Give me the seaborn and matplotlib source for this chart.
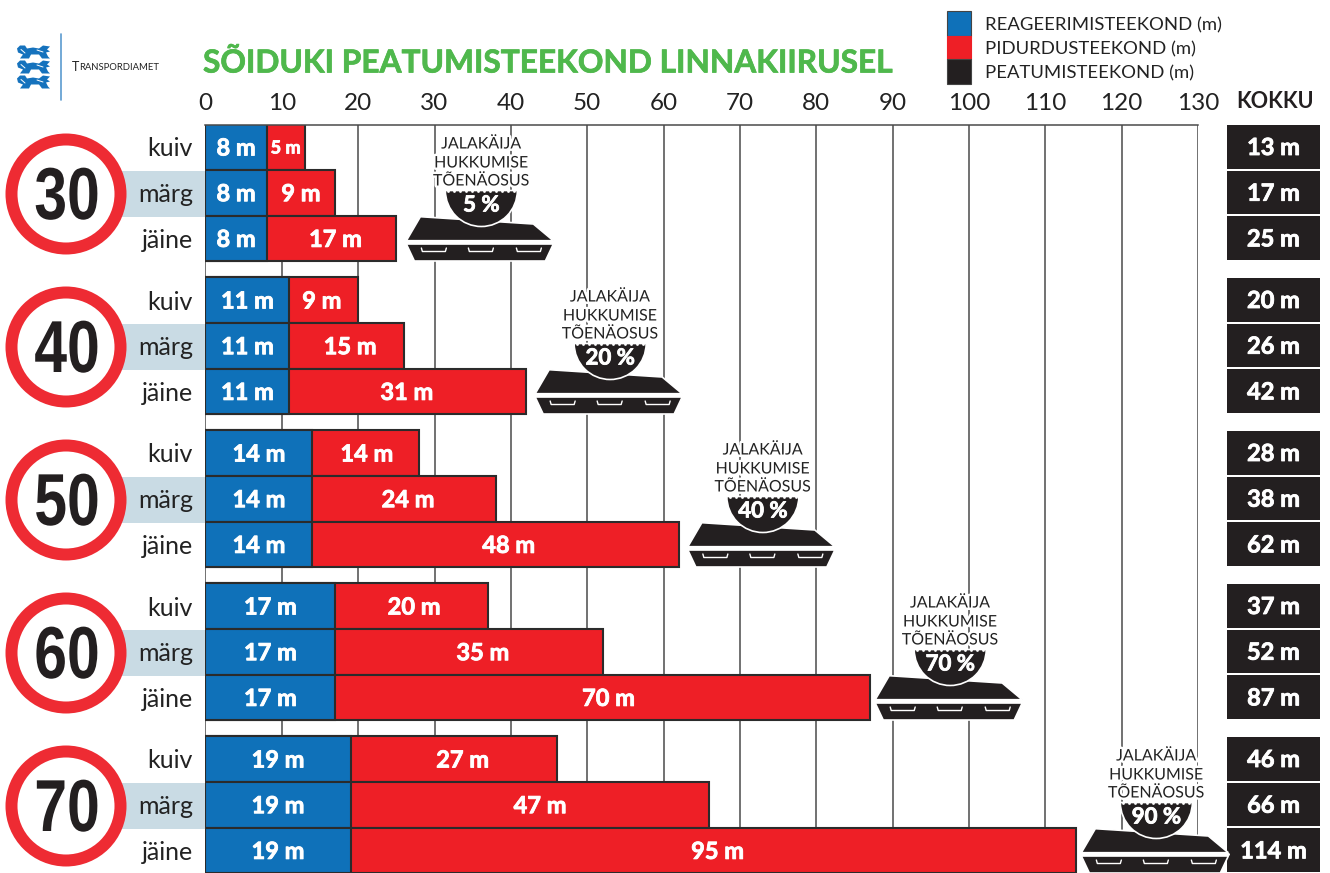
import numpy as np
import pandas as pd
import matplotlib.pyplot as plt
import matplotlib.patheffects as pe
from matplotlib.patches import Circle, Polygon, Rectangle, Wedge
from matplotlib.transforms import Affine2D
import seaborn as sns

speeds = ['30', '40', '50', '60', '70']
conditions = ['kuiv', 'märg', 'jäine']
reaction = [8, 8, 8, 11, 11, 11, 14, 14, 14, 17, 17, 17, 19, 19, 19]
braking = [5, 9, 17, 9, 15, 31, 14, 24, 48, 20, 35, 70, 27, 47, 95]
totals = [13, 17, 25, 20, 26, 42, 28, 38, 62, 37, 52, 87, 46, 66, 114]
death_prob = [5, 20, 40, 70, 90]
legend_labels = ['REAGEERIMISTEEKOND (m)', 'PIDURDUSTEEKOND (m)', 'PEATUMISTEEKOND (m)']

BLUE = '#0f71b9'
RED = '#ee1f26'
BLACK = '#231f20'
GREEN = '#4fb84c'
GRID = '#4a4a4a'

sns.set_theme(style='ticks')
plt.rcParams['font.family'] = ['Lato', 'DejaVu Sans']

fig = plt.figure(figsize=(13.3, 8.73), dpi=100)


class Narrow(pe.AbstractPathEffect):
    # squeezes glyphs sideways, there is no condensed bold font installed
    def __init__(self, sx, cx):
        super().__init__()
        self.sx = sx
        self.cx = cx

    def draw_path(self, renderer, gc, tpath, affine, rgbFace=None):
        squeeze = Affine2D().translate(-self.cx, 0).scale(self.sx, 1).translate(self.cx, 0)
        renderer.draw_path(gc, tpath, affine + squeeze, rgbFace)


def pixel_axes(zorder):
    # axes over the whole figure, coordinates are image pixels
    a = fig.add_axes([0, 0, 1, 1], zorder=zorder)
    a.set_xlim(0, 1330)
    a.set_ylim(873, 0)
    a.axis('off')
    a.patch.set_alpha(0)
    return a


back = pixel_axes(0)
top = pixel_axes(2)

# rows: 3 per group, y is measured in pixels from the top of the image
row_y = [147 + 153 * g + 45.7 * r for g in range(5) for r in range(3)]
df = pd.DataFrame({'y': row_y, 'reaction': reaction, 'total': totals})

X0, X130 = 205.5, 1198
ax = fig.add_axes([X0 / 1330, 0, (X130 - X0) / 1330, (873 - 124.5) / 873], zorder=1)
ax.patch.set_alpha(0)

# red bars are drawn to the full length, blue goes on top of them
sns.barplot(data=df, x='total', y='y', orient='y', native_scale=True, width=1.0,
            color=RED, saturation=1, edgecolor='#2b2b2b', linewidth=1.5, ax=ax)
sns.barplot(data=df, x='reaction', y='y', orient='y', native_scale=True, width=1.0,
            color=BLUE, saturation=1, edgecolor='#2b2b2b', linewidth=1.5, ax=ax)

ax.set_xlim(0, 130)
ax.set_ylim(873, 124.5)
ax.set_xlabel('')
ax.set_ylabel('')
ax.set_axisbelow(True)
ax.xaxis.tick_top()
ax.set_xticks(range(0, 131, 10))
ax.set_xticks(range(5, 130, 10), minor=True)
ax.tick_params(axis='x', which='major', length=4.5, width=1.1, color=GRID, labelsize=17.5,
               labelcolor='#222222', pad=3)
ax.tick_params(axis='x', which='minor', length=6, width=1.0, color=GRID, direction='inout')
ax.grid(axis='x', which='major', color=GRID, lw=1.1)
ax.set_yticks(row_y)
ax.set_yticklabels(conditions * 5)
ax.tick_params(axis='y', length=0, labelsize=18, labelcolor='#222222', pad=9)
sns.despine(ax=ax, left=True, right=True, bottom=True, top=False)
ax.spines['top'].set_color(GRID)
ax.spines['top'].set_linewidth(1.1)

# value labels inside the bars, the thin stroke makes them as heavy as the original
# the red labels are not quite centred in the reference, nudge is in pixels
heavy = [pe.withStroke(linewidth=0.6, foreground='white')]
nudge = [0, 0, 4, -2, 3.5, -1, 1, 4, 13, 2.5, 14, 6, 9, 10, 4.5]
px_per_m = (X130 - X0) / 130
for i, y in enumerate(row_y):
    ax.text(reaction[i] / 2, y + 1, f'{reaction[i]} m', color='white', fontweight='bold',
            fontsize=17, ha='center', va='center', path_effects=heavy)
    small = braking[i] < 6
    ax.text(reaction[i] + braking[i] / 2 + nudge[i] / px_per_m, y + 1, f'{braking[i]} m', color='white',
            fontweight='bold', fontsize=13 if small else 17, ha='center', va='center', path_effects=heavy)

# kokku column
top.text(1275, 102, 'KOKKU', fontsize=15.5, fontweight='bold', color=BLACK, ha='center', va='center')
for i, y in enumerate(row_y):
    top.add_patch(Rectangle((1227, y - 22), 93, 43.5, color=BLACK, lw=0))
    top.text(1273.5, y + 0.5, f'{totals[i]} m', color='white', fontweight='bold', fontsize=17,
             ha='center', va='center', path_effects=heavy)

# speed signs
for g, speed in enumerate(speeds):
    cy = 194 + 153 * g
    back.add_patch(Rectangle((120, cy - 23), 86, 46, color='#c9dbe4', lw=0))
    top.add_patch(Circle((66, cy), 60.5, color='#ee2b33', lw=0))
    top.add_patch(Circle((66, cy), 48.5, color='white', lw=0))
    top.text(67, cy + 5.5, speed, fontsize=53, fontweight='bold', color=BLACK, ha='center', va='center',
             family=['Liberation Sans', 'DejaVu Sans'], path_effects=[Narrow(0.8, 67)])


def coffin(x, dy, prob):
    lid = [(x, 240.7 + dy), (x + 14, 216.7 + dy), (x + 127, 224 + dy), (x + 147, 240.7 + dy)]
    base = [(x, 244 + dy), (x + 8, 261 + dy), (x + 139, 261 + dy), (x + 147, 244 + dy)]
    top.add_patch(Polygon(lid, fc=BLACK, ec='white', lw=1.2, zorder=3))
    top.add_patch(Polygon(base, fc=BLACK, ec='white', lw=1.2, zorder=3))
    top.plot([x, x + 147], [242.4 + dy, 242.4 + dy], color='white', lw=2.2, zorder=3)
    for hx in (15, 62, 110):
        top.plot([x + hx, x + hx + 1, x + hx + 24, x + hx + 25], [248 + dy, 251.5 + dy, 251.5 + dy, 248 + dy],
                 color='white', lw=1.0, zorder=4)
    top.add_patch(Wedge((x + 75, 190.5 + dy), 36, 0, 180, fc=BLACK, ec='white', lw=1.2, zorder=4))
    # wavy upper edge of the half disc
    top.scatter(x + 75 + np.arange(-33, 34, 6), np.full(12, 190.5 + dy), s=4, color='white', lw=0, zorder=4.5)
    stroke = [pe.withStroke(linewidth=3.5, foreground='white')]
    for ty, line in zip((144.5, 163.5, 181.5), ('JALAKÄIJA', 'HUKKUMISE', 'TÕENÄOSUS')):
        top.text(x + 75, ty + dy, line, fontsize=11.5, color='#222222', ha='center', va='center',
                 path_effects=stroke, zorder=5)
    top.text(x + 75, 205 + dy, f'{prob} %', fontsize=16, fontweight='bold', color='white',
             ha='center', va='center', path_effects=heavy, zorder=6)


# coffins sit just behind the end of the icy road bar
gaps = [10, 9, 9, 5.5, 5.5]
for g, prob in enumerate(death_prob):
    end = X0 + totals[g * 3 + 2] * px_per_m
    coffin(end + gaps[g], 153 * g, prob)

# title and legend
top.text(203, 62.5, 'SÕIDUKI PEATUMISTEEKOND LINNAKIIRUSEL', fontsize=22.8, fontweight='bold', color=GREEN,
         ha='left', va='center', path_effects=[pe.withStroke(linewidth=0.5, foreground=GREEN)])
for (y0, h, c), ty, lab in zip([(11, 25, BLUE), (36, 23, RED), (59, 25, BLACK)], (25.5, 49.5, 73.5), legend_labels):
    top.add_patch(Rectangle((947, y0), 24, h, fc=c, ec='#444444' if c != RED else RED, lw=0.8))
    top.text(985, ty, lab, fontsize=13.3, color='#222222', ha='left', va='center')

# logo
lion = np.array([(0, 3), (3, 0), (8, 0), (10, 3), (16, 2), (22, 3), (26, 0), (33, 1), (30, 4), (33, 6),
                 (29, 7), (31, 11), (33, 13), (25, 13), (22, 9), (14, 9), (12, 13), (3, 13), (6, 9), (1, 7)])
for k in range(3):
    top.add_patch(Polygon(lion + [17, 45.5 + 15 * k], fc='#1572bd', lw=0))
    top.plot([21, 25], [49.5 + 15 * k, 53 + 15 * k], color='white', lw=0.7)
    top.plot([37, 43], [50 + 15 * k, 52 + 15 * k], color='white', lw=0.7)
top.plot([61, 61], [34, 100], color='#5b9bd0', lw=1.2)
top.text(72, 67, 'T', fontsize=9, color='#222222', ha='left', va='center')
top.text(79, 67.5, 'RANSPORDIAMET', fontsize=6.8, color='#222222', ha='left', va='center')

fig.savefig('out.png', dpi=100)
